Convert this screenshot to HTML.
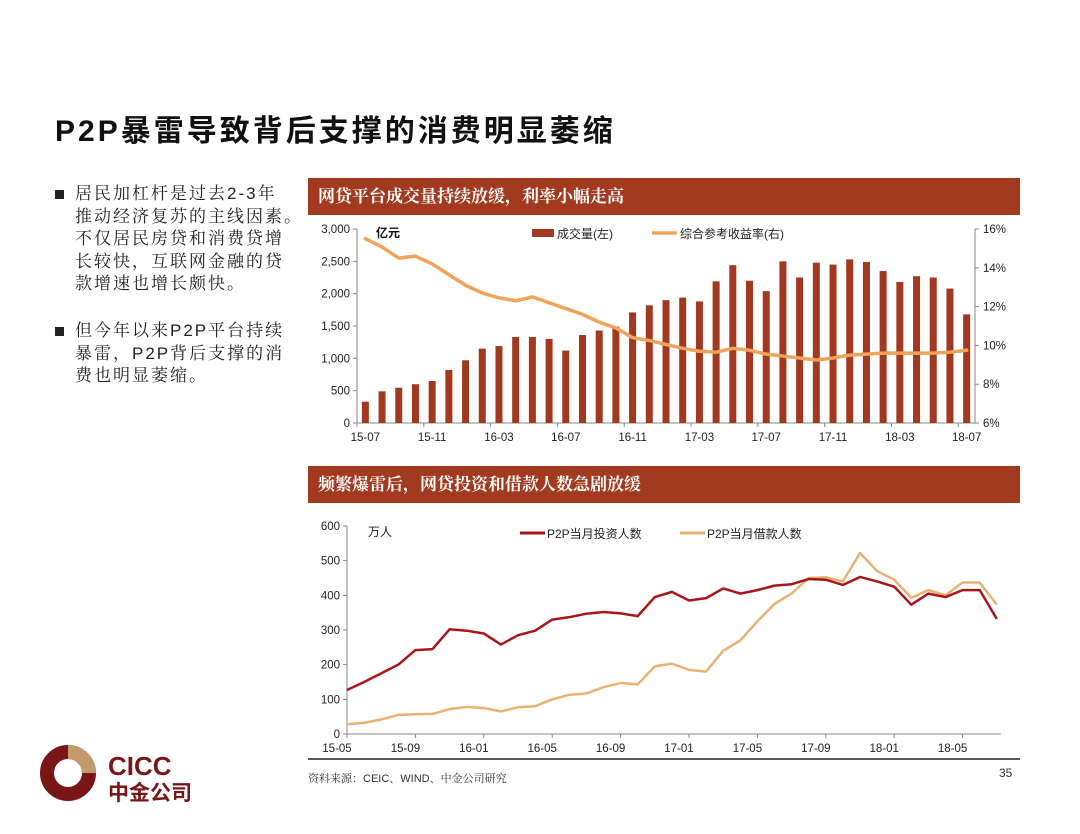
<!DOCTYPE html>
<html><head><meta charset="utf-8">
<style>
body{margin:0;width:1080px;height:834px;background:#fff;position:relative;overflow:hidden;font-family:"Liberation Sans","Noto Sans CJK SC",sans-serif;}
.abs{position:absolute;}
.title{left:55px;top:106px;font-size:30px;font-weight:bold;color:#111;letter-spacing:3px;white-space:nowrap;}
.bul{left:55px;font-size:17px;line-height:22.6px;color:#222;font-family:"Liberation Sans","Noto Serif CJK SC",serif;white-space:nowrap;letter-spacing:2px;}
.bul .sq{position:absolute;left:0;top:7px;width:9px;height:9px;background:#222;}
.bul .tx{margin-left:20px;}
.hdr{left:308px;width:712px;height:37px;background:#A23A1F;color:#fff;font-size:17px;font-weight:bold;line-height:37px;padding-left:10px;box-sizing:border-box;font-family:"Liberation Sans","Noto Serif CJK SC",serif;}
svg text{font-family:"Liberation Sans","Noto Sans CJK SC",sans-serif;}
</style></head><body>
<div class="abs title">P2P暴雷导致背后支撑的消费明显萎缩</div>
<div class="abs bul" style="top:183px"><div class="sq"></div><div class="tx">居民加杠杆是过去2-3年<br>推动经济复苏的主线因素。<br>不仅居民房贷和消费贷增<br>长较快，互联网金融的贷<br>款增速也增长颇快。</div></div>
<div class="abs bul" style="top:320px"><div class="sq"></div><div class="tx">但今年以来P2P平台持续<br>暴雷，P2P背后支撑的消<br>费也明显萎缩。</div></div>
<div class="abs hdr" style="top:178px">网贷平台成交量持续放缓，利率小幅走高</div>
<div class="abs hdr" style="top:466px">频繁爆雷后，网贷投资和借款人数急剧放缓</div>
<svg class="abs" style="left:0;top:0" width="1080" height="834" id="svg"></svg>
<div class="abs" style="left:308px;top:770px;font-size:11px;color:#333;font-family:'Liberation Sans','Noto Serif CJK SC',serif">资料来源：CEIC、WIND、中金公司研究</div>
<div class="abs" style="left:999px;top:766px;font-size:12px;color:#333">35</div>
<svg class="abs" style="left:40px;top:745px" width="170" height="60">
<circle cx="28" cy="28" r="21" fill="none" stroke="#7A1518" stroke-width="14"/>
<path d="M28 7 A21 21 0 0 1 49 28" fill="none" stroke="#C49A6C" stroke-width="14"/>
<circle cx="28" cy="30" r="5" fill="#fff"/>
<text x="68" y="30" font-size="26" font-weight="bold" fill="#7A1518">CICC</text>
<text x="68" y="55" font-size="21" font-weight="bold" fill="#7A1518" style="font-family:'Noto Sans CJK SC',sans-serif">中金公司</text>
</svg>
<script>
const topCats=["15-07","15-08","15-09","15-10","15-11","15-12","16-01","16-02","16-03","16-04","16-05","16-06","16-07","16-08","16-09","16-10","16-11","16-12","17-01","17-02","17-03","17-04","17-05","17-06","17-07","17-08","17-09","17-10","17-11","17-12","18-01","18-02","18-03","18-04","18-05","18-06","18-07"];
const volume=[330,490,545,600,650,820,970,1150,1190,1330,1330,1300,1120,1360,1430,1490,1710,1820,1900,1940,1880,2190,2440,2200,2040,2500,2250,2480,2450,2530,2490,2350,2180,2270,2250,2080,1680];
const rate=[15.5,15.07,14.5,14.6,14.2,13.65,13.1,12.7,12.45,12.3,12.5,12.2,11.9,11.6,11.2,10.9,10.4,10.25,10.05,9.85,9.7,9.65,9.85,9.75,9.55,9.45,9.35,9.25,9.35,9.5,9.55,9.6,9.6,9.6,9.6,9.65,9.75];
const leftTicks=[0,500,1000,1500,2000,2500,3000];
const rightTicks=[6,8,10,12,14,16];
const botCats=["15-05","15-06","15-07","15-08","15-09","15-10","15-11","15-12","16-01","16-02","16-03","16-04","16-05","16-06","16-07","16-08","16-09","16-10","16-11","16-12","17-01","17-02","17-03","17-04","17-05","17-06","17-07","17-08","17-09","17-10","17-11","17-12","18-01","18-02","18-03","18-04","18-05","18-06","18-07"];
const investors=[127,150,175,200,242,245,302,298,290,258,285,298,330,337,347,352,348,340,395,410,385,392,420,405,415,428,432,447,445,430,453,440,425,373,405,395,415,415,332];
const borrowers=[28,32,42,55,57,58,72,78,75,65,77,80,100,113,117,135,147,143,195,203,185,180,240,270,325,375,405,450,452,440,522,470,445,393,415,400,437,437,373];
const botTicks=[0,100,200,300,400,500,600];

const svg=document.getElementById('svg');
const NS='http://www.w3.org/2000/svg';
function mk(tag,attrs,txt){const e=document.createElementNS(NS,tag);for(const k in attrs)e.setAttribute(k,attrs[k]);if(txt!==undefined)e.textContent=txt;svg.appendChild(e);return e;}

const tL=357,tR=975,tB=423,tT=229;
const tStep=(tR-tL)/topCats.length;
const tx=i=>tL+tStep*(i+0.5);
const yL=v=>tB-(v/3000)*(tB-tT);
const yR=v=>tB-((v-6)/10)*(tB-tT);
leftTicks.forEach(v=>{const t=mk('text',{x:tL-7,y:yL(v)+4,'font-size':11.5,'text-anchor':'end',fill:'#222'},v.toLocaleString('en-US'));mk('line',{x1:tL-4,x2:tL,y1:yL(v),y2:yL(v),stroke:'#888'});});
rightTicks.forEach(v=>{const t=mk('text',{x:tR+8,y:yR(v)+4,'font-size':11.5,fill:'#222'},v+'%');mk('line',{x1:tR,x2:tR+4,y1:yR(v),y2:yR(v),stroke:'#888'});});
mk('line',{x1:tL,x2:tL,y1:tT,y2:tB,stroke:'#888'});
mk('line',{x1:tR,x2:tR,y1:tT,y2:tB,stroke:'#888'});
mk('line',{x1:tL,x2:tR,y1:tB,y2:tB,stroke:'#888'});
volume.forEach((v,i)=>{const r=mk('rect',{x:tx(i)-3.5,y:yL(v),width:7,height:tB-yL(v),fill:'#A0391F'});});
topCats.forEach((c,i)=>{if(i%4===0){const t=mk('text',{x:tx(i),y:441,'font-size':11.5,'text-anchor':'middle',fill:'#222'},c);mk('line',{x1:tL+tStep*i,x2:tL+tStep*i,y1:tB,y2:tB+4,stroke:'#888'});}});
const rl=mk('polyline',{points:rate.map((v,i)=>tx(i)+','+yR(v)).join(' '),fill:'none',stroke:'#F0A35A','stroke-width':3.5,'stroke-linejoin':'round','stroke-linecap':'round'});

mk('text',{x:376,y:237,'font-size':12,'font-weight':'bold',fill:'#111'},'亿元');
mk('rect',{x:532,y:229,width:22,height:8,fill:'#A0391F'});
mk('text',{x:557,y:238,'font-size':12,fill:'#222'},'成交量(左)');
mk('line',{x1:652,x2:677,y1:233,y2:233,stroke:'#F0A35A','stroke-width':3.5});
mk('text',{x:680,y:238,'font-size':12,fill:'#222'},'综合参考收益率(右)');

const bL=347,bB=734,bT=526,bStep=17.1;
const bx=i=>bL+bStep*i;
const by=v=>bB-(v/600)*(bB-bT);
mk('line',{x1:bL,x2:bL,y1:bT,y2:bB,stroke:'#888'});
mk('line',{x1:bL,x2:bx(botCats.length-1)+4,y1:bB,y2:bB,stroke:'#888'});
botTicks.forEach(v=>{const t=mk('text',{x:bL-7,y:by(v)+4,'font-size':11.5,'text-anchor':'end',fill:'#222'},v);mk('line',{x1:bL-4,x2:bL,y1:by(v),y2:by(v),stroke:'#888'});});
botCats.forEach((c,i)=>{if(i%4===0){const t=mk('text',{x:bx(i)-10,y:752,'font-size':11.5,'text-anchor':'middle',fill:'#222'},c);mk('line',{x1:bx(i),x2:bx(i),y1:bB,y2:bB+4,stroke:'#888'});}});
const bl=mk('polyline',{points:borrowers.map((v,i)=>bx(i)+','+by(v)).join(' '),fill:'none',stroke:'#E8B274','stroke-width':2.5,'stroke-linejoin':'round'});

const il=mk('polyline',{points:investors.map((v,i)=>bx(i)+','+by(v)).join(' '),fill:'none',stroke:'#A8161B','stroke-width':2.5,'stroke-linejoin':'round'});

mk('text',{x:368,y:536,'font-size':12,fill:'#222'},'万人');
mk('line',{x1:520,x2:545,y1:533,y2:533,stroke:'#A8161B','stroke-width':3});
mk('text',{x:547,y:538,'font-size':12,fill:'#222'},'P2P当月投资人数');
mk('line',{x1:680,x2:705,y1:533,y2:533,stroke:'#E8B274','stroke-width':3});
mk('text',{x:707,y:538,'font-size':12,fill:'#222'},'P2P当月借款人数');
mk('line',{x1:308,x2:1020,y1:759,y2:759,stroke:'#222','stroke-width':1.5});
</script>
</body></html>
